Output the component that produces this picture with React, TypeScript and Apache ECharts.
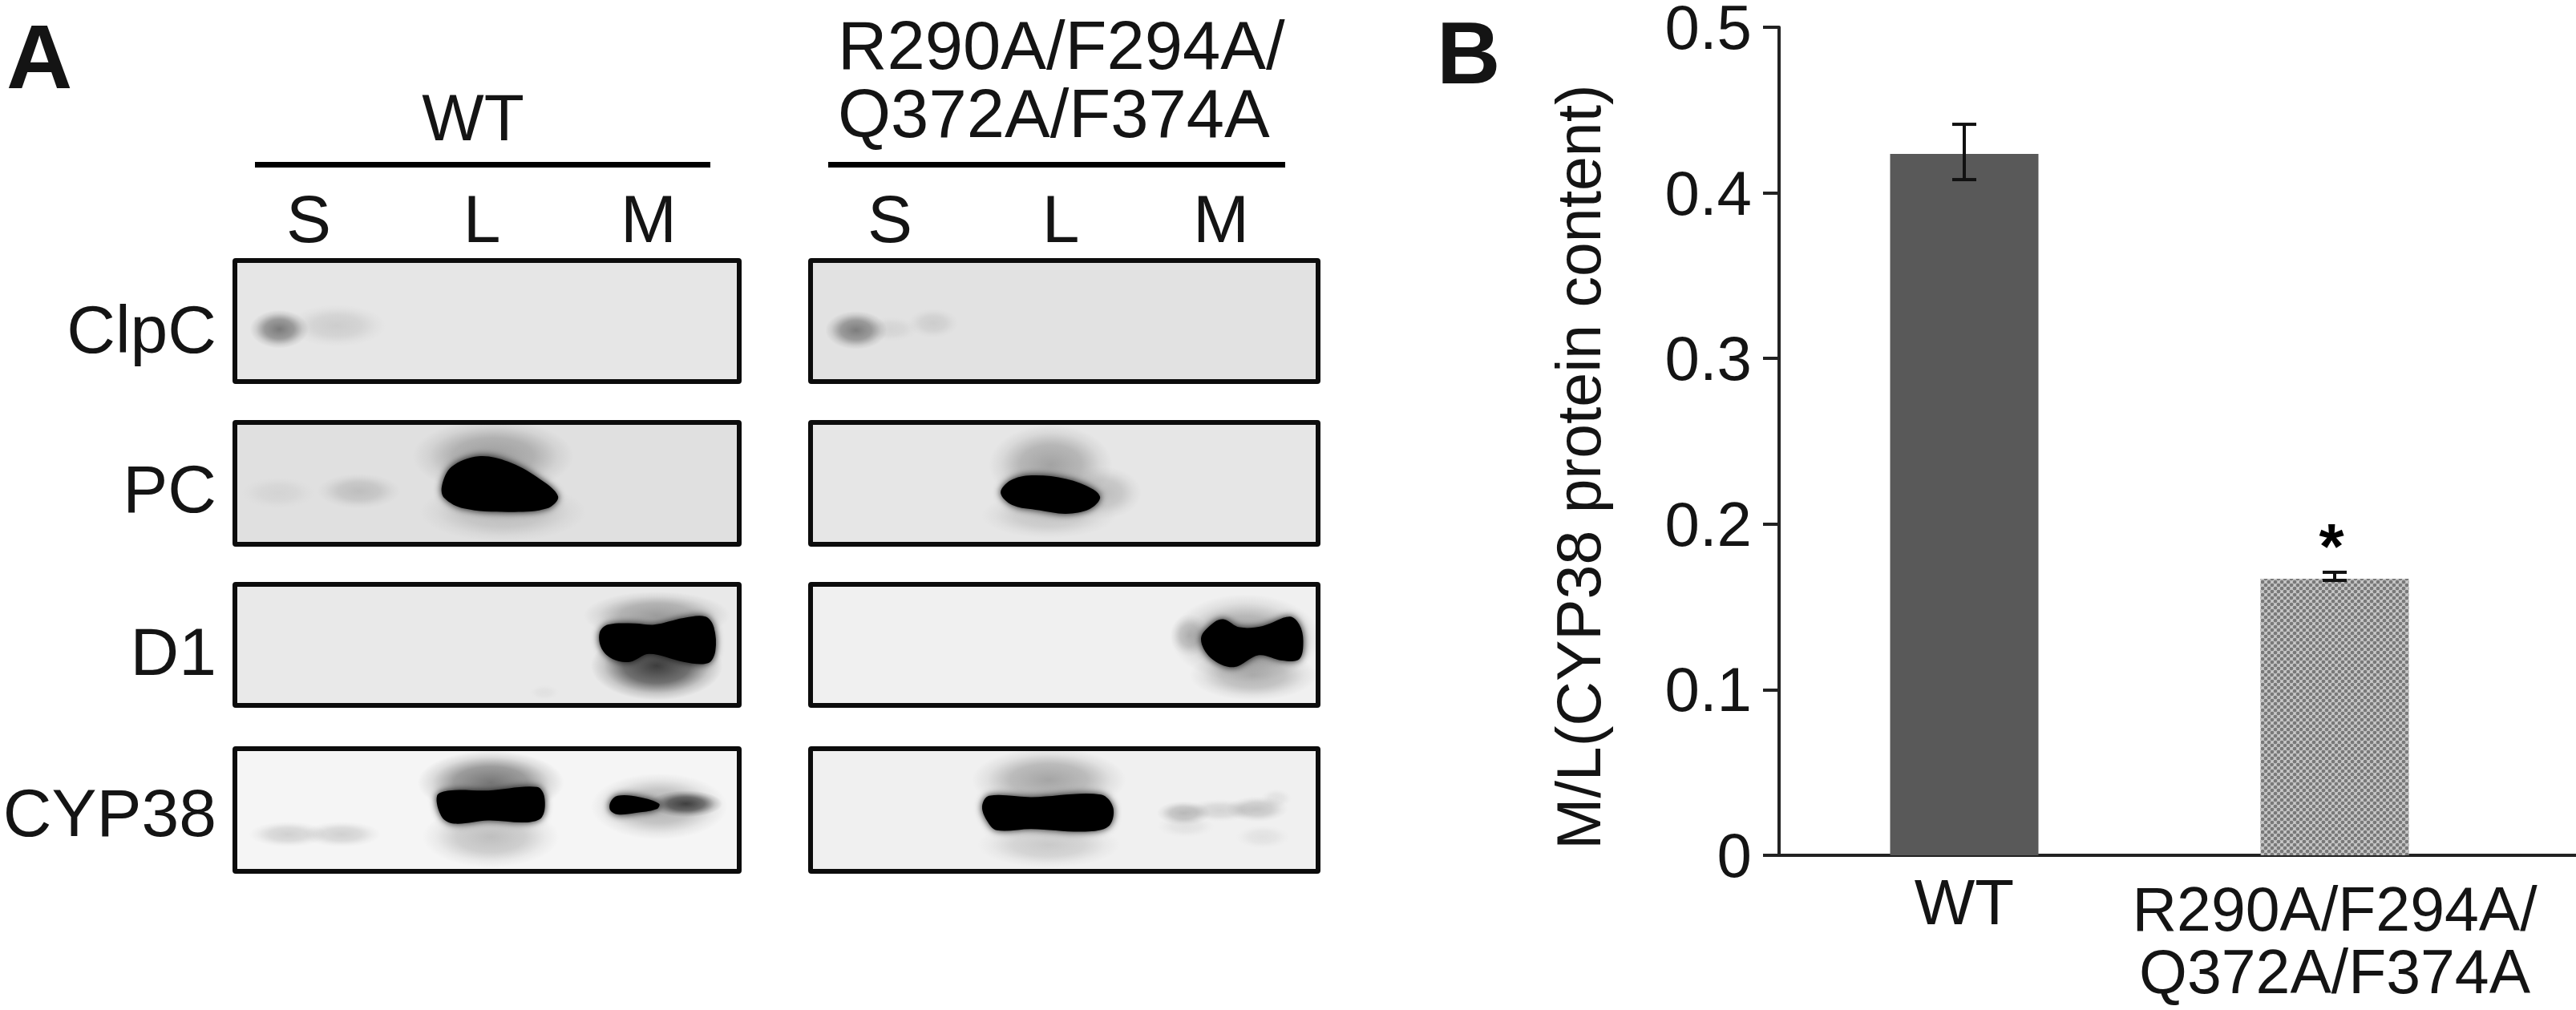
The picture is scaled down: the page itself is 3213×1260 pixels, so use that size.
import React, { useEffect, useRef } from "react";
import * as echarts from "echarts";

const FONT = '"Liberation Sans", Arial, sans-serif';
const INK = "#141414";

// Panel B data
const groups = ["WT", "R290A/F294A/\nQ372A/F374A"];
const meanValues = [0.4235, 0.167];
const errorLow = [0.408, 0.166];
const errorHigh = [0.4414, 0.1709];
const yMin = 0;
const yMax = 0.5;
const yStep = 0.1;
const yTitle = "M/L(CYP38 protein content)";

// Panel A labels
const laneLabels = ["S", "L", "M"];
const wtLaneX = [385, 601, 809];
const mutLaneX = [1110, 1323, 1523];
const rowLabels = ["ClpC", "PC", "D1", "CYP38"];
const rowLabelY = [411, 610, 813, 1014];
const mutantLines = ["R290A/F294A/", "Q372A/F374A"];

// Blot frames [top, bottom] for each row
const rowSpans = [[325, 476], [527, 679], [729, 880], [934, 1087]];
const wtBg = ["#e6e6e6", "#e0e0e0", "#e9e9e9", "#f5f5f5"];
const mutBg = ["#e2e2e2", "#e6e6e6", "#f0f0f0", "#f0f0f0"];

// Crop spaces used to trace the blot shapes
const crops: Record<string, (x: number, y: number) => number[]> = {
  wtTop: (x, y) => [x / 1.642, y * 0.4345],
  wtLow: (x, y) => [x / 1.642, 680 + y * 0.331],
  mutTop: (x, y) => [950 + x / 2.08, y * 0.4345],
  mutLow: (x, y) => [950 + x / 2.08, 680 + y * 0.331],
};

type Soft = [number, number, number, number, number, number]; // cx, cy, rx, ry, grey, alpha
const softWtTop: Soft[] = [
  [572, 945, 60, 55, 80, 0.72], [690, 935, 100, 60, 125, 0.24],
  [1010, 1310, 165, 105, 90, 0.5], [1030, 1470, 170, 85, 110, 0.32],
  [735, 1410, 85, 50, 110, 0.3], [570, 1415, 75, 45, 120, 0.12],
];
const softWtLow: Soft[] = [
  [1345, 455, 135, 130, 30, 0.85], [1345, 265, 150, 90, 80, 0.5], [1115, 555, 30, 28, 150, 0.1],
  [1005, 895, 150, 120, 50, 0.65], [1005, 1100, 140, 115, 90, 0.35],
  [1350, 985, 140, 125, 80, 0.42], [1405, 975, 75, 50, 30, 0.8],
  [590, 1090, 80, 48, 130, 0.32], [700, 1090, 80, 48, 130, 0.32],
];
const softMutTop: Soft[] = [
  [245, 948, 80, 55, 85, 0.72], [335, 945, 70, 35, 130, 0.15], [445, 928, 65, 42, 130, 0.22],
  [750, 1335, 160, 115, 80, 0.45], [885, 1415, 100, 75, 100, 0.32], [745, 1480, 175, 65, 110, 0.28],
];
const softMutLow: Soft[] = [
  [1255, 350, 195, 165, 60, 0.45], [1275, 490, 165, 95, 90, 0.42], [1110, 340, 50, 80, 90, 0.35],
  [745, 885, 200, 120, 90, 0.5], [745, 1130, 185, 85, 120, 0.32],
  [1095, 1010, 70, 45, 100, 0.4], [1190, 1000, 95, 42, 125, 0.25], [1285, 995, 80, 48, 110, 0.34],
  [1335, 955, 40, 36, 130, 0.14], [1100, 1060, 75, 42, 140, 0.15], [1300, 1100, 70, 44, 140, 0.15],
];

const denseWtTop = [
  [[905, 1395], [925, 1340], [980, 1310], [1040, 1325], [1100, 1370], [1143, 1425], [1120, 1460], [1040, 1470], [950, 1460], [910, 1430]],
];
const denseWtLow = [
  [[1228, 330], [1245, 300], [1300, 295], [1340, 300], [1400, 275], [1445, 270], [1462, 310], [1465, 400], [1450, 445], [1400, 440], [1330, 410], [1290, 440], [1255, 430], [1232, 390]],
  [[895, 945], [920, 925], [1000, 925], [1100, 912], [1115, 950], [1110, 1025], [1080, 1045], [1000, 1038], [930, 1050], [905, 1025]],
  [[1250, 970], [1265, 945], [1310, 950], [1350, 975], [1345, 995], [1300, 1010], [1265, 1015], [1250, 1000]],
];
const denseMutTop = [
  [[620, 1415], [645, 1380], [700, 1365], [790, 1375], [860, 1405], [878, 1430], [850, 1462], [790, 1475], [720, 1465], [650, 1450]],
];
const denseMutLow = [
  [[1140, 350], [1175, 290], [1200, 280], [1240, 310], [1300, 305], [1370, 270], [1395, 300], [1405, 360], [1395, 430], [1350, 435], [1290, 415], [1225, 460], [1165, 425]],
  [[572, 985], [590, 945], [700, 950], [880, 940], [912, 990], [900, 1060], [840, 1080], [700, 1070], [610, 1075], [585, 1040]],
];

function softShapes(list: Soft[], crop: string) {
  return list.map(([cx, cy, rx, ry, g, a]) => {
    const [x, y] = crops[crop](cx, cy);
    const [x2, y2] = crops[crop](cx + rx, cy + ry);
    return {
      type: "ellipse",
      shape: { cx: x, cy: y, rx: x2 - x, ry: y2 - y },
      style: {
        fill: {
          type: "radial", x: 0.5, y: 0.5, r: 0.5,
          colorStops: [
            { offset: 0, color: `rgba(${g},${g},${g},${a})` },
            { offset: 0.5, color: `rgba(${g},${g},${g},${a * 0.7})` },
            { offset: 0.8, color: `rgba(${g},${g},${g},${a * 0.2})` },
            { offset: 1, color: `rgba(${g},${g},${g},0)` },
          ],
        },
      },
    };
  });
}

function denseShapes(list: number[][][], crop: string) {
  return list.map((pts) => ({
    type: "polygon",
    shape: { points: pts.map(([x, y]) => crops[crop](x, y)), smooth: 0.35 },
    style: { fill: "#000", shadowBlur: 10, shadowColor: "rgba(0,0,0,0.95)" },
  }));
}

function frames(x0: number, x1: number, bgs: string[]) {
  return rowSpans.map(([t, b], i) => ({
    type: "rect",
    shape: { x: x0, y: t, width: x1 - x0, height: b - t, r: 1 },
    style: { fill: bgs[i], stroke: "none" },
  }));
}

function frameBorders(x0: number, x1: number) {
  return rowSpans.map(([t, b]) => ({
    type: "rect",
    shape: { x: x0, y: t, width: x1 - x0, height: b - t, r: 1 },
    style: { fill: "none", stroke: "#0c0c0c", lineWidth: 6 },
  }));
}

function label(text: string, x: number, y: number, size: number, align = "center", bold = false) {
  return {
    type: "text",
    style: {
      text, x, y, fill: INK, align, verticalAlign: "middle",
      font: `${bold ? "bold " : ""}${size}px ${FONT}`,
    },
  };
}

function checkerPattern() {
  const c = document.createElement("canvas");
  c.width = 8;
  c.height = 8;
  const g = c.getContext("2d")!;
  g.fillStyle = "#c9c9c9";
  g.fillRect(0, 0, 8, 8);
  g.fillStyle = "#797979";
  for (const [x, y] of [[2, 2], [6, 6], [-2, 6], [2, 10], [10, 2], [6, -2], [-2, -2], [10, 10]]) {
    g.beginPath();
    g.arc(x, y, 2.35, 0, Math.PI * 2);
    g.fill();
  }
  return { image: c, repeat: "repeat", imageWidth: 8, imageHeight: 8 };
}

export default function App() {
  const ref = useRef<HTMLDivElement>(null);
  useEffect(() => {
    const chart = echarts.init(ref.current!, undefined, { renderer: "svg" });
    const graphicEls: any[] = [
      ...frames(293, 922, wtBg),
      ...frames(1011, 1644, mutBg),
      ...softShapes(softWtTop, "wtTop"),
      ...softShapes(softWtLow, "wtLow"),
      ...softShapes(softMutTop, "mutTop"),
      ...softShapes(softMutLow, "mutLow"),
      ...denseShapes(denseWtTop, "wtTop"),
      ...denseShapes(denseWtLow, "wtLow"),
      ...denseShapes(denseMutTop, "mutTop"),
      ...denseShapes(denseMutLow, "mutLow"),
      ...frameBorders(293, 922),
      ...frameBorders(1011, 1644),
      label("A", 8, 70, 114, "left", true),
      label("B", 1792, 65, 110, "left", true),
      label("WT", 590, 146, 82),
      { type: "rect", shape: { x: 318, y: 202, width: 568, height: 7 }, style: { fill: "#000" } },
      { type: "rect", shape: { x: 1033, y: 202, width: 570, height: 7 }, style: { fill: "#000" } },
      ...mutantLines.map((t, i) => label(t, 1045, 56 + i * 85, 85, "left")),
      ...laneLabels.map((t, i) => label(t, wtLaneX[i], 273, 84)),
      ...laneLabels.map((t, i) => label(t, mutLaneX[i], 273, 84)),
      ...rowLabels.map((t, i) => label(t, 270, rowLabelY[i], 84, "right")),
      // the x axis line runs on past the plot to the page edge
      { type: "line", shape: { x1: 3143, y1: 1067, x2: 3213, y2: 1067 }, style: { stroke: "#222", lineWidth: 4 } },
    ];

    chart.setOption({
      animation: false,
      backgroundColor: "#fff",
      grid: { left: 2219, top: 34, width: 924, height: 1033, containLabel: false, outerBoundsMode: "none" },
      xAxis: {
        type: "category",
        data: [
          { value: groups[0], textStyle: { lineHeight: 80 } },
          { value: groups[1], textStyle: { lineHeight: 78, fontSize: 77, padding: [10, 0, 0, 0] } },
        ],
        axisTick: { show: false },
        axisLine: { lineStyle: { color: "#222", width: 4 } },
        axisLabel: { fontFamily: FONT, fontSize: 80, color: INK, margin: 18, interval: 0, verticalAlign: "top" },
      },
      yAxis: {
        type: "value",
        min: yMin,
        max: yMax,
        interval: yStep,
        splitLine: { show: false },
        axisLine: { show: true, lineStyle: { color: "#222", width: 4 } },
        axisTick: { show: true, length: 20, lineStyle: { color: "#222", width: 4 } },
        axisLabel: {
          fontFamily: FONT, fontSize: 78, color: INK, margin: 34,
          formatter: (v: number) => (v === 0 ? "0" : v.toFixed(1)),
        },
        name: yTitle,
        nameLocation: "middle",
        nameGap: 212,
        nameRotate: 90,
        nameTextStyle: { fontFamily: FONT, fontSize: 77, color: INK, padding: [0, 64, 0, 0] },
      },
      series: [
        {
          type: "bar",
          barWidth: 185,
          data: [
            { value: meanValues[0], itemStyle: { color: "#595959" } },
            {
              value: meanValues[1],
              itemStyle: { color: checkerPattern() },
              label: {
                show: true, formatter: "*", position: "top", distance: 0,
                fontFamily: FONT, fontSize: 80, fontWeight: "bold", color: "#000", offset: [-4, 0],
              },
            },
          ],
        },
        {
          type: "custom",
          z: 5,
          clip: false,
          data: groups.map((_, i) => [i, errorLow[i], errorHigh[i]]),
          encode: { x: 0, y: [1, 2] },
          renderItem: (_p: any, api: any) => {
            const i = api.value(0);
            const lo = api.coord([i, api.value(1)]);
            const hi = api.coord([i, api.value(2)]);
            const cap = 15;
            const style = { stroke: "#111", lineWidth: 4, fill: "none" };
            return {
              type: "group",
              children: [
                { type: "line", shape: { x1: lo[0], y1: lo[1], x2: hi[0], y2: hi[1] }, style },
                { type: "line", shape: { x1: lo[0] - cap, y1: lo[1], x2: lo[0] + cap, y2: lo[1] }, style },
                { type: "line", shape: { x1: hi[0] - cap, y1: hi[1], x2: hi[0] + cap, y2: hi[1] }, style },
              ],
            };
          },
        },
      ],
      graphic: { elements: graphicEls },
    });
    return () => chart.dispose();
  }, []);
  return <div ref={ref} style={{ position: "absolute", left: 0, top: 0, width: 3213, height: 1260 }} />;
}
